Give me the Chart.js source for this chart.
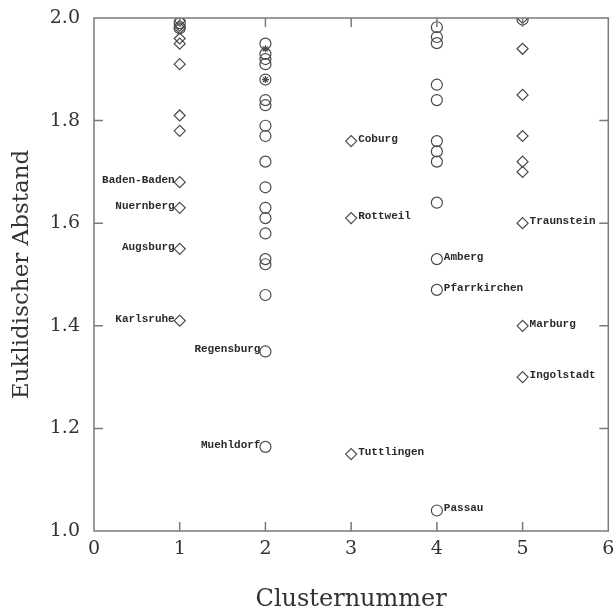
<!DOCTYPE html>
<html>
<head>
<meta charset="utf-8">
<script src="https://cdn.jsdelivr.net/npm/chart.js@4/dist/chart.umd.min.js"></script>
<style>
  html, body { margin: 0; padding: 0; background: #fff; }
  #box { width: 615px; height: 610px; }
</style>
</head>
<body>
<div id="box"><canvas id="clusters"></canvas></div>
<script>
// distances per cluster
const cluster1 = [1.995, 1.985, 1.98, 1.96, 1.95, 1.91, 1.81, 1.78, 1.68, 1.63, 1.55, 1.41];
const cluster1Circles = [1.99, 1.98];
const cluster2 = [1.95, 1.93, 1.92, 1.91, 1.88, 1.84, 1.83, 1.79, 1.77, 1.72, 1.67, 1.63, 1.61, 1.58, 1.53, 1.52, 1.46, 1.35, 1.164];
const cluster2Stars = [1.94, 1.88];
const cluster3 = [1.76, 1.61, 1.15];
const cluster4 = [1.982, 1.963, 1.951, 1.87, 1.84, 1.76, 1.74, 1.72, 1.64, 1.53, 1.47, 1.04];
const cluster5 = [2.0, 1.94, 1.85, 1.77, 1.72, 1.70, 1.60, 1.40, 1.30];
const cluster5Circles = [1.997];

const cityNames = ["Baden-Baden", "Nuernberg", "Augsburg", "Karlsruhe", "Regensburg", "Muehldorf",
  "Coburg", "Rottweil", "Tuttlingen", "Amberg", "Pfarrkirchen", "Passau",
  "Traunstein", "Marburg", "Ingolstadt"];
const cityCluster = [1, 1, 1, 1, 2, 2, 3, 3, 3, 4, 4, 4, 5, 5, 5];
const cityValue = [1.68, 1.63, 1.55, 1.41, 1.35, 1.164, 1.76, 1.61, 1.15, 1.53, 1.47, 1.04, 1.60, 1.40, 1.30];

const xTicks = [0, 1, 2, 3, 4, 5, 6];
const yTicks = [1.0, 1.2, 1.4, 1.6, 1.8, 2.0];

const toPoints = (x, vals) => vals.map((v) => ({ x: x, y: v }));

const markColor = "#4a4a4a";
const frameColor = "#7a7a7a";

const diamonds = {
  data: [].concat(toPoints(1, cluster1), toPoints(3, cluster3), toPoints(5, cluster5)),
  pointStyle: "rectRot", pointRadius: 5.5,
};
const circles = {
  data: [].concat(toPoints(1, cluster1Circles), toPoints(2, cluster2), toPoints(4, cluster4), toPoints(5, cluster5Circles)),
  pointStyle: "circle", pointRadius: 5.5,
};
const stars = {
  data: toPoints(2, cluster2Stars),
  pointStyle: "star", pointRadius: 3.5,
};

// frame with inward ticks on all four sides
const framePlugin = {
  id: "frame",
  afterDraw(chart) {
    const { ctx, chartArea: a, scales } = chart;
    ctx.save();
    ctx.strokeStyle = frameColor;
    ctx.lineWidth = 1.5;
    ctx.strokeRect(a.left, a.top, a.right - a.left, a.bottom - a.top);
    const len = 9;
    ctx.beginPath();
    xTicks.slice(1, -1).forEach((t) => {
      const px = scales.x.getPixelForValue(t);
      ctx.moveTo(px, a.bottom); ctx.lineTo(px, a.bottom - len);
      ctx.moveTo(px, a.top); ctx.lineTo(px, a.top + len);
    });
    yTicks.slice(1, -1).forEach((t) => {
      const py = scales.y.getPixelForValue(t);
      ctx.moveTo(a.left, py); ctx.lineTo(a.left + len, py);
      ctx.moveTo(a.right, py); ctx.lineTo(a.right - len, py);
    });
    ctx.stroke();
    ctx.restore();
  },
};

// city names next to their points
const namePlugin = {
  id: "names",
  afterDatasetsDraw(chart) {
    const { ctx, scales } = chart;
    ctx.save();
    ctx.fillStyle = "#2a2a2a";
    ctx.font = "bold 11px 'Liberation Mono', monospace";
    ctx.textBaseline = "alphabetic";
    cityNames.forEach((name, i) => {
      const px = scales.x.getPixelForValue(cityCluster[i]);
      const py = scales.y.getPixelForValue(cityValue[i]);
      if (cityCluster[i] <= 2) {
        ctx.textAlign = "right";
        ctx.fillText(name, px - 5, py + 1);
      } else {
        ctx.textAlign = "left";
        ctx.fillText(name, px + 7, py + 1);
      }
    });
    ctx.restore();
  },
};

const serif = "'DejaVu Serif', serif";

new Chart(document.getElementById("clusters"), {
  type: "scatter",
  data: {
    datasets: [diamonds, circles, stars].map((d) => Object.assign({
      borderColor: markColor,
      backgroundColor: "rgba(0,0,0,0)",
      pointBorderWidth: 1.2,
    }, d)),
  },
  options: {
    responsive: true,
    maintainAspectRatio: false,
    animation: false,
    layout: { padding: { top: 18, right: 5, left: 0, bottom: 0 } },
    plugins: { legend: { display: false }, tooltip: { enabled: false } },
    scales: {
      x: {
        type: "linear",
        min: 0, max: 6,
        afterFit: (s) => { s.height = 79; s.paddingLeft = 0; s.paddingRight = 0; },
        afterBuildTicks: (s) => { s.ticks = xTicks.map((v) => ({ value: v })); },
        grid: { display: false, drawTicks: false },
        border: { display: false },
        ticks: { color: "#333", font: { family: serif, size: 19 }, padding: 7, maxRotation: 0 },
        title: { display: true, text: "Clusternummer", color: "#333", font: { family: serif, size: 24, lineHeight: 1 }, padding: { top: 0, bottom: -2 } },
      },
      y: {
        type: "linear",
        min: 1.0, max: 2.0,
        afterFit: (s) => { s.width = 94; s.paddingTop = 0; s.paddingBottom = 0; },
        afterBuildTicks: (s) => { s.ticks = yTicks.map((v) => ({ value: v })); },
        grid: { display: false, drawTicks: false },
        border: { display: false },
        ticks: { color: "#333", font: { family: serif, size: 19 }, padding: 14, callback: (v) => v.toFixed(1) },
        title: { display: true, text: "Euklidischer Abstand", color: "#333", font: { family: serif, size: 23, lineHeight: 1 }, padding: { top: 11, bottom: 0 } },
      },
    },
  },
  plugins: [framePlugin, namePlugin],
});
</script>
</body>
</html>
